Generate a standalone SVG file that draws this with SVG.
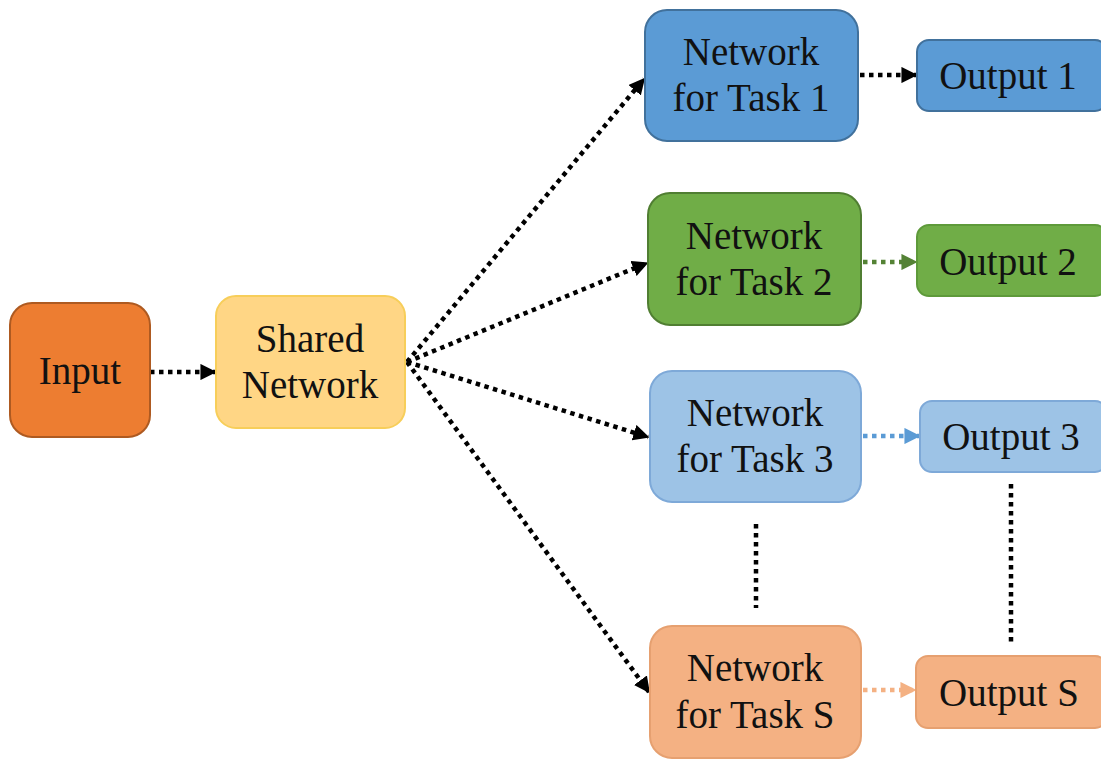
<svg xmlns="http://www.w3.org/2000/svg" width="1101" height="759" viewBox="0 0 1101 759">
<defs>
<style>
text{font-family:"Liberation Serif","Times New Roman",serif;font-size:39px;fill:#111;text-anchor:middle}
.n{stroke-width:2}
.c{fill:none;stroke-width:4.5;stroke-dasharray:4.5 4.5}
</style>
<marker id="ak" viewBox="0 0 10 10" refX="9" refY="5" markerWidth="3.6" markerHeight="3.6" orient="auto" markerUnits="strokeWidth"><path d="M0,0L10,5L0,10z" fill="#000"/></marker>
<marker id="ag" viewBox="0 0 10 10" refX="9" refY="5" markerWidth="3.6" markerHeight="3.6" orient="auto" markerUnits="strokeWidth"><path d="M0,0L10,5L0,10z" fill="#548235"/></marker>
<marker id="ab" viewBox="0 0 10 10" refX="9" refY="5" markerWidth="3.6" markerHeight="3.6" orient="auto" markerUnits="strokeWidth"><path d="M0,0L10,5L0,10z" fill="#5B9BD5"/></marker>
<marker id="ao" viewBox="0 0 10 10" refX="9" refY="5" markerWidth="3.6" markerHeight="3.6" orient="auto" markerUnits="strokeWidth"><path d="M0,0L10,5L0,10z" fill="#F4B183"/></marker>
</defs>
<rect width="1101" height="759" fill="#fff"/>
<g id="connectors">
<line class="c" x1="150" y1="372" x2="215" y2="372" stroke="#000" marker-end="url(#ak)"/>
<line class="c" x1="407" y1="362" x2="644" y2="79" stroke="#000" marker-end="url(#ak)"/>
<line class="c" x1="407" y1="362" x2="647" y2="263" stroke="#000" marker-end="url(#ak)"/>
<line class="c" x1="407" y1="362" x2="648" y2="437" stroke="#000" marker-end="url(#ak)"/>
<line class="c" x1="407" y1="362" x2="649" y2="692" stroke="#000" marker-end="url(#ak)"/>
<line class="c" x1="860" y1="75" x2="916" y2="75" stroke="#000" marker-end="url(#ak)"/>
<line class="c" x1="863" y1="262" x2="916" y2="262" stroke="#548235" marker-end="url(#ag)"/>
<line class="c" x1="863" y1="436" x2="919" y2="436" stroke="#5B9BD5" marker-end="url(#ab)"/>
<line class="c" x1="863" y1="690" x2="915" y2="690" stroke="#F4B183" marker-end="url(#ao)"/>
<line class="c" x1="756" y1="524" x2="756" y2="608" stroke="#000"/>
<line class="c" x1="1011" y1="484" x2="1011" y2="642" stroke="#000"/>
</g>
<g id="input"><rect class="n" x="10" y="303" width="140" height="134" rx="22" fill="#ED7D31" stroke="#AE5A21"/><text x="80" y="384">Input</text></g>
<g id="shared"><rect class="n" x="216" y="296" width="189" height="132" rx="20" fill="#FFD685" stroke="#F7CE5A"/><text x="310" y="352">Shared</text><text x="310" y="398">Network</text></g>
<g id="task1"><rect class="n" x="645" y="10" width="213" height="131" rx="22" fill="#5B9BD5" stroke="#41719C"/><text x="751" y="65">Network</text><text x="751" y="111">for Task 1</text></g>
<g id="out1"><rect class="n" x="917" y="40" width="190" height="71" rx="12" fill="#5B9BD5" stroke="#41719C"/><text x="1008" y="89">Output 1</text></g>
<g id="task2"><rect class="n" x="648" y="193" width="213" height="132" rx="22" fill="#70AD47" stroke="#507E32"/><text x="754" y="249">Network</text><text x="754" y="295">for Task 2</text></g>
<g id="out2"><rect class="n" x="917" y="225" width="190" height="71" rx="12" fill="#70AD47" stroke="#5E9A3A"/><text x="1008" y="275">Output 2</text></g>
<g id="task3"><rect class="n" x="650" y="371" width="211" height="131" rx="22" fill="#9DC3E6" stroke="#7EA9D8"/><text x="755" y="426">Network</text><text x="755" y="472">for Task 3</text></g>
<g id="out3"><rect class="n" x="920" y="401" width="187" height="71" rx="12" fill="#9DC3E6" stroke="#7EA9D8"/><text x="1011" y="450">Output 3</text></g>
<g id="taskS"><rect class="n" x="650" y="626" width="211" height="132" rx="22" fill="#F4B183" stroke="#E6A070"/><text x="755" y="681">Network</text><text x="755" y="728">for Task S</text></g>
<g id="outS"><rect class="n" x="916" y="656" width="191" height="72" rx="12" fill="#F4B183" stroke="#E6A070"/><text x="1009" y="706">Output S</text></g>
</svg>
